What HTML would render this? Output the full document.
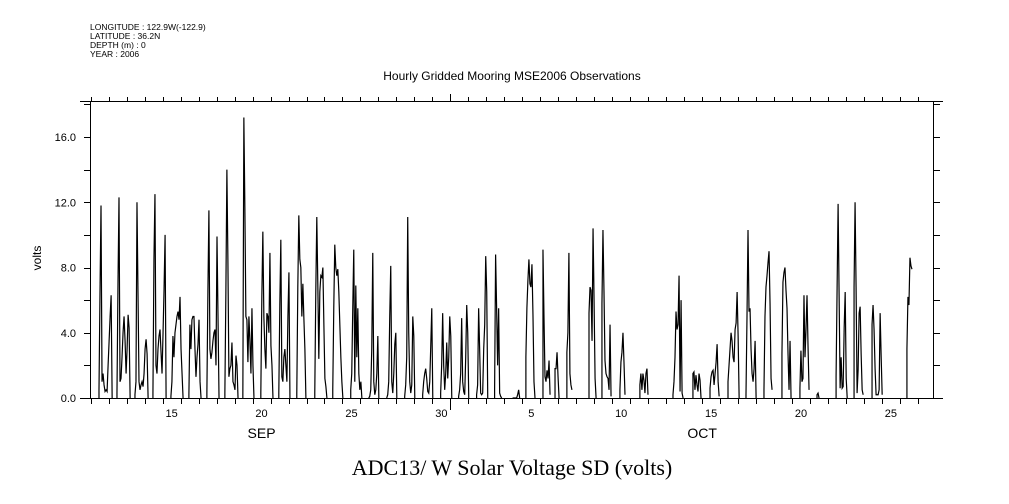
<!DOCTYPE html>
<html><head><meta charset="utf-8"><style>
html,body{margin:0;padding:0;background:#fff;}
svg{display:block;}
text{font-family:"Liberation Sans",sans-serif;fill:#000;}
</style></head><body>
<svg id="chart" width="1009" height="504" viewBox="0 0 1009 504" xmlns="http://www.w3.org/2000/svg">
<g font-size="8.5">
<text x="90" y="30">LONGITUDE : 122.9W(-122.9)</text>
<text x="90" y="39">LATITUDE : 36.2N</text>
<text x="90" y="48">DEPTH (m) : 0</text>
<text x="90" y="57">YEAR : 2006</text>
</g>
<text x="512" y="80" text-anchor="middle" font-size="12">Hourly Gridded Mooring MSE2006 Observations</text>
<text transform="translate(41,258) rotate(-90)" text-anchor="middle" font-size="12">volts</text>
<text x="512" y="475" text-anchor="middle" font-size="22" style="font-family:'Liberation Serif',serif">ADC13/ W Solar Voltage SD (volts)</text>
<g id="axes"></g>
<g id="series"></g>
</svg>
<script>
const yTicks=[0,2,4,6,8,10,12,14,16,18];
const yLabels=["0.0","4.0","8.0","12.0","16.0"];
const yLabelValues=[0,4,8,12,16];
const dayLabels=["15","20","25","30","5","10","15","20","25"];
const dayLabelT=[15,20,25,30,35,40,45,50,55];
const monthLabels=["SEP","OCT"];
const monthLabelT=[20.5,45.0];
const burstStart=[11.46,12.46,13.46,14.46,15.46,16.46,17.46,18.46,19.46,20.46,21.46,22.46,23.46,24.46,25.46,26.46,27.46,28.46,29.46,30.46,31.46,32.46,33.46,34.46,35.2,36.15,36.82,37.48,38.71,39.43,40.43,41.54,43.38,44.49,45.44,46.44,47.44,48.44,49.44,50.44,51.39,52.45,53.45,54.45,56.39];
const burstValues=[
[0.5,6.5,11.8,1,1.5,0.8,0.4,0.5,0.4,2,3.5,5,6.3,0],
[0.3,7,12.3,1,1.2,2.5,4,5,3.5,1.5,3,5.1,4.3,0],
[0.2,1,12,6.5,1,0.5,0.8,1,0.7,1.5,3,3.6,2.7,0],
[0.3,8.5,12.5,2,1.5,3,3.8,4.2,2.8,1.5,4,6.7,10,0],
[0.1,1,3.8,2.5,4,4.5,5,5.3,4.8,6.2,3,1.5,0],
[0.2,4.5,3,4.8,5,5,3,1.3,2.5,3.3,4.8,1,0],
[0.3,6.5,11.5,3,2.4,2.8,3.5,4,4.2,2,9.9,5,0],
[0.3,6.5,14,8.5,1.3,1.8,2,3.4,1,0.8,0.5,2.6,2,0],
[0.2,17.2,11.7,5,4.8,2.2,5,3.5,1.5,5.5,2,0],
[0.3,6.2,10.2,5,3,1.8,5.2,5,4,8.9,3.2,2,0],
[0.3,5.7,9.7,1.3,1,2.5,3,2,1,5,7.7,0],
[0.3,6.8,11.2,8.5,8,5,7,4.9,3,0],
[0.3,6.5,11.1,7,2.4,6.5,7.5,7.4,8,4.5,1.2,0.7,0],
[0.5,5.5,9.4,8,7.5,7.9,6.5,4.5,2.5,1,0],
[0.5,1.5,5.5,9.1,1,6.9,2.5,5.5,1.5,0.5,1,0],
[0,0.1,0.5,3,8.9,1,0.2,0.5,1.5,3.8,0],
[0,0.2,1,5,8.1,1,0.3,1.5,3.3,4,0],
[0.1,0.8,2.5,11.1,4,1,0.3,0.8,5,3.8,0],
[0.2,1,1.5,1.8,1.2,0.4,0.3,1,3.2,5.5,0],
[0.3,2,5.2,2,0.5,1.5,3.4,1.2,2.5,5,3.8,0],
[0.1,0.5,1.5,4.9,1,0.4,0.2,2.5,5.7,4,0],
[0.2,0.8,5.5,3,0.3,0.2,0.3,3,4.5,8.7,6.5,0],
[0.5,8.8,5.5,2,5.5,0.3,0.1,0],
[0,0,0,0,0,0.2,0.5,0],
[2.5,5.5,7.2,8.5,7,6.8,8.2,5.1,1,0],
[9.1,5,1.3,1,1.7,1.2,2.3,0.2],
[1.8,1.8,2.8,1.3,0],
[2.8,4,8.9,1.5,0.8,0.5],
[5.2,6.8,6.6,3.5,10.4,6,1.2,0],
[5.8,10.3,6.6,2.3,1.5,1.3,1.2,0.5,4.5,0.1],
[0.5,2.2,2.8,4,2.2,0.2],
[0.8,1.5,0.5,1.5,1.1,0.3,1.5,1.8,0.2],
[0.2,1,2.5,5.3,4.2,4.5,7.5,0.4,6,0.3,0],
[1.5,1.6,0.5,1.4,0.8,0.4,1.5,1.1,0],
[0.6,1.3,1.6,1.7,0.8,1.5,2.2,3.3,1,0.1],
[1,2,3,4,3.5,2.5,2.2,4.2,4.6,6.5,3.8,0],
[0.2,5,10.3,5.3,5.5,3,1.5,1,1.8,3.5,0],
[0.5,5,6.8,7.5,8.3,9,5.8,1.2,0.5],
[2.7,7.1,7.7,8,6.6,5.5,2.7,0.5,3.5,0],
[0.6,2.9,1,1.2,6.3,2.5,4.2,6.3,3.2,0.5],
[0.2,0.3,0],
[1.3,6.7,11.9,6.3,0.6,2.5,0.6,0.7,4.3,6.5,1.2,0],
[6.8,12,6.8,0.3,1.7,5.2,5.6,2.7,0.5,0.2],
[4.5,5.7,4.2,1.8,0.2,0.2,0.2,0.5,5.2,2.6,0.2],
[3,6.2,5.7,8.6,8.1,7.9]
];
const X0=90,X1=933,Y0=398,Y1=101,T0=10.96,T1=57.84,VMAX=(398-101)/16.31;
const STEP=1.35/24;
function xs(t){return X0+(t-T0)/(T1-T0)*(X1-X0);}
function ys(v){return Y0-v/VMAX*(Y0-Y1);}
const NS="http://www.w3.org/2000/svg";
const axes=document.getElementById('axes');
function ln(x1,y1,x2,y2,name){const l=document.createElementNS(NS,'line');l.setAttribute('x1',x1);l.setAttribute('y1',y1);l.setAttribute('x2',x2);l.setAttribute('y2',y2);l.setAttribute('stroke','#000');l.setAttribute('stroke-width','1');


axes.appendChild(l);return l;}
function tx(x,y,s,anchor,size,name){const t=document.createElementNS(NS,'text');t.setAttribute('x',x);t.setAttribute('y',y);t.setAttribute('text-anchor',anchor);t.setAttribute('font-size',size);t.textContent=s;


axes.appendChild(t);}
ln(80,Y1+0.5,943,Y1+0.5,'top-axis-line');
ln(80,Y0+0.5,943,Y0+0.5,'x-axis-line');
ln(X0+0.5,Y1,X0+0.5,Y0,'y-axis-line');
ln(X1+0.5,Y1,X1+0.5,Y0,'right-axis-line');
yTicks.forEach(v=>{const y=Math.round(ys(v))+0.5;ln(84,y,X0,y,'y-tick');ln(X1,y,940,y,'right-y-tick');});
yLabels.forEach((s,i)=>tx(76,ys(yLabelValues[i])+4,s,'end',11,'y-tick-label'));
for(let d=11;d<=57;d++){const x=Math.round(xs(d))+0.5;const long=(d===31);ln(x,Y0,x,Y0+(long?12:6),'x-tick');ln(x,Y1-(long?7:4),x,Y1,'top-x-tick');}
dayLabels.forEach((s,i)=>tx(xs(dayLabelT[i]+0.5),417,s,'middle',11,'x-tick-label'));
monthLabels.forEach((s,i)=>tx(xs(monthLabelT[i]),438,s,'middle',14,'month-label'));
const ser=document.getElementById('series');
let d='';
burstStart.forEach((t0,i)=>{const vals=burstValues[i];
  d+='M'+xs(t0).toFixed(2)+','+ys(0).toFixed(2);
  vals.forEach((v,j)=>{const x=xs(t0+j*STEP);d+='L'+x.toFixed(2)+','+ys(v).toFixed(2);});
});
const pl=document.createElementNS(NS,'path');
pl.setAttribute('d',d);
pl.setAttribute('fill','none');pl.setAttribute('stroke','#000');pl.setAttribute('stroke-width','1.2');


ser.appendChild(pl);
</script>
</body></html>
